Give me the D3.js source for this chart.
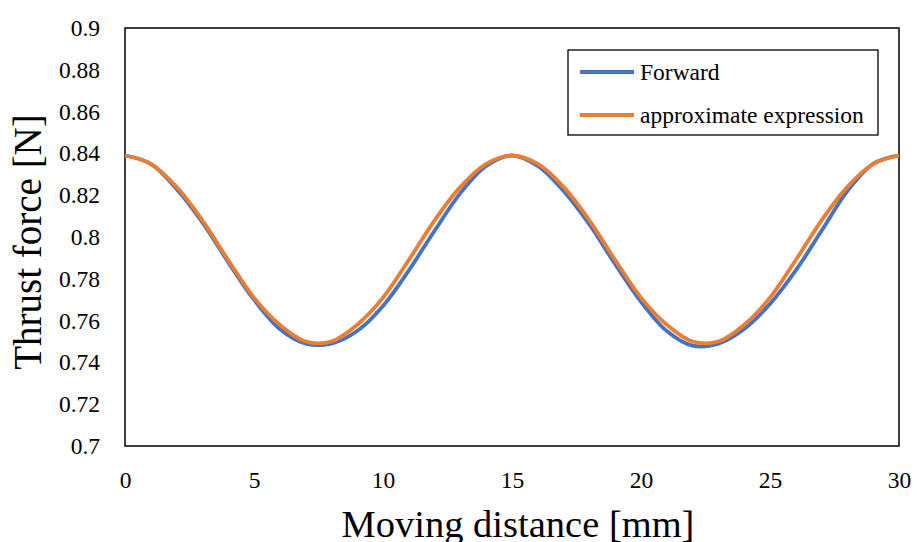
<!DOCTYPE html>
<html>
<head>
<meta charset="utf-8">
<script src="https://cdn.jsdelivr.net/npm/d3@7"></script>
<style>
  body { margin: 0; background: #fff; }
</style>
</head>
<body>
<svg id="chart" width="917" height="542"></svg>
<script>
const width = 917;
const height = 542;
const serif = '"Liberation Serif", "Times New Roman", serif';

// moving distance [mm]
const distance = [0, 1, 2, 3, 4, 5, 6, 7, 8, 9, 10, 11, 12, 13, 14, 15,
  16, 17, 18, 19, 20, 21, 22, 23, 24, 25, 26, 27, 28, 29, 30];

// thrust force [N]
const forward = [0.839, 0.835, 0.823, 0.807, 0.788, 0.770, 0.756, 0.749, 0.749, 0.755, 0.767,
  0.784, 0.803, 0.821, 0.834, 0.839, 0.834, 0.822, 0.806, 0.787, 0.769, 0.755, 0.748,
  0.749, 0.756, 0.768, 0.784, 0.803, 0.822, 0.835, 0.839];
const approx = [0.839, 0.835, 0.824, 0.808, 0.789, 0.771, 0.758, 0.750, 0.750, 0.758, 0.771,
  0.789, 0.808, 0.824, 0.835, 0.839, 0.835, 0.824, 0.808, 0.789, 0.771, 0.758, 0.750,
  0.750, 0.758, 0.771, 0.789, 0.808, 0.824, 0.835, 0.839];

const xTicks = [0, 5, 10, 15, 20, 25, 30];
const yTicks = [0.7, 0.72, 0.74, 0.76, 0.78, 0.8, 0.82, 0.84, 0.86, 0.88, 0.9];

const seriesNames = ["Forward", "approximate expression"];
const seriesColors = ["#4472c4", "#ed7d31"];

const margin = { top: 28, right: 18, bottom: 96, left: 125 };
const plotW = width - margin.left - margin.right;
const plotH = height - margin.top - margin.bottom;

const svg = d3.select("#chart");
const g = svg.append("g").attr("transform", `translate(${margin.left},${margin.top})`);

const x = d3.scaleLinear().domain([0, 30]).range([0, plotW]);
const y = d3.scaleLinear().domain([0.7, 0.9]).range([plotH, 0]);

// axes: labels only, no tick marks
const xAxis = g.append("g")
  .attr("transform", `translate(0,${plotH})`)
  .call(d3.axisBottom(x).tickValues(xTicks).tickSize(0).tickPadding(25).tickFormat(d3.format("d")));
xAxis.select(".domain").remove();
xAxis.attr("font-family", null).attr("font-size", null);
xAxis.selectAll("text").style("font-family", serif).style("font-size", "23.5px").attr("fill", "#000");

const yAxis = g.append("g")
  .call(d3.axisLeft(y).tickValues(yTicks).tickSize(0).tickPadding(25).tickFormat(d => String(+d.toFixed(2))));
yAxis.select(".domain").remove();
yAxis.attr("font-family", null).attr("font-size", null);
yAxis.selectAll("text").style("font-family", serif).style("font-size", "23.5px").attr("fill", "#000");

// plot frame
g.append("rect")
  .attr("width", plotW)
  .attr("height", plotH)
  .attr("fill", "none")
  .attr("stroke", "#000")
  .attr("stroke-width", 1.5);

const line = d3.line()
  .x(d => x(d[0]))
  .y(d => y(d[1]))
  .curve(d3.curveCatmullRom.alpha(0.5));

[forward, approx].forEach((vals, i) => {
  g.append("path")
    .datum(distance.map((d, j) => [d, vals[j]]))
    .attr("fill", "none")
    .attr("stroke", seriesColors[i])
    .attr("stroke-width", 3.8)
    .attr("stroke-linejoin", "round")
    .attr("d", line);
});

// axis titles
svg.append("text")
  .attr("x", 518)
  .attr("y", 537)
  .attr("text-anchor", "middle")
  .style("font-family", serif)
  .style("font-size", "38.5px")
  .text("Moving distance [mm]");

svg.append("text")
  .attr("transform", "translate(41,242) rotate(-90)")
  .attr("text-anchor", "middle")
  .style("font-family", serif)
  .style("font-size", "39px")
  .text("Thrust force [N]");

// legend
const legend = svg.append("g").attr("transform", "translate(568,50)");
legend.append("rect")
  .attr("width", 310)
  .attr("height", 85)
  .attr("fill", "#fff")
  .attr("stroke", "#000")
  .attr("stroke-width", 1.3);

seriesNames.forEach((name, i) => {
  const row = legend.append("g").attr("transform", `translate(0,${22 + i * 43})`);
  row.append("line")
    .attr("x1", 12).attr("x2", 66)
    .attr("stroke", seriesColors[i])
    .attr("stroke-width", 3.8);
  row.append("text")
    .attr("x", 72)
    .attr("y", 8)
    .style("font-family", serif)
    .style("font-size", "23.5px")
    .text(name);
});
</script>
</body>
</html>
